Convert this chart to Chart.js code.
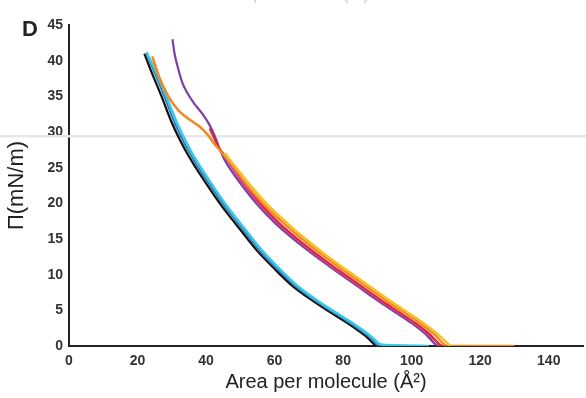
<!DOCTYPE html>
<html>
<head>
<meta charset="utf-8">
<script src="https://cdn.jsdelivr.net/npm/chart.js@4.4.0/dist/chart.umd.min.js"></script>
<style>
  html, body { margin: 0; padding: 0; background: #fff; }
  #wrap { position: relative; width: 586px; height: 398px; overflow: hidden; }
  #panel { position: absolute; left: 22px; top: 16px; font: bold 22px "Liberation Sans", Arial, sans-serif; color: #222; }
  #cut { position: absolute; left: 0; width: 586px; top: -14px; text-align: center; font: 15px "Liberation Sans", Arial, sans-serif; color: #c8c8c8; }
</style>
</head>
<body>
<div id="wrap">
  <canvas id="chart" width="586" height="398"></canvas>
  <div id="cut">Area per molecule (Å²)</div>
  <div id="panel">D</div>
</div>
<script>
// isotherm traces: [area, pressure]
const blackCurve = [[22,41],[24,38.5],[27,35],[30,31.3],[34,27.4],[37,25],[40,22.8],[44,20],[47,18.1],[50,16.3],[55,13.3],[60,10.8],[65,8.5],[70,6.7],[75,5.1],[80,3.6],[84,2.3],[87,1.2],[89.5,0]];
const blueCurve  = [[22.6,41],[24.8,38.5],[27.8,35],[30.8,31.3],[34.8,27.4],[37.8,25],[40.8,22.8],[44.8,20],[47.8,18.1],[50.8,16.3],[55.8,13.3],[60.8,10.8],[65.8,8.5],[70.8,6.7],[75.8,5.1],[80.8,3.6],[84.8,2.3],[87.8,1.2],[90.3,0]];
const cyanCurve  = [[22.6,41.2],[25.3,38.5],[28.4,35],[31.5,31.3],[35.5,27.4],[38.5,25],[41.5,22.8],[45.5,20],[48.5,18.1],[51.5,16.3],[56.5,13.3],[61.5,10.8],[66.5,8.5],[71.5,6.7],[76.5,5.1],[81.5,3.6],[85.5,2.3],[88.5,1.2],[91,0.2],[95,0.1],[105,0]];
const orangeCurve = [[24.3,40.6],[26.5,37.5],[29,35],[32,33],[35,31.8],[38,30.8],[40.5,29.6],[42.5,28.3],[45,26.9],[48,25.1],[52,22.5],[57,19.8],[62.5,17.3],[67.5,15.2],[72.5,13.3],[77.5,11.5],[82.5,9.8],[87.5,8.1],[92.5,6.4],[97.5,4.8],[102.5,3.2],[106.5,1.7],[110.5,0],[130,0]];
const yellowCurve = [[45.5,27],[48.8,25],[53,22.5],[58,19.8],[63.5,17.3],[68.5,15.2],[73.5,13.3],[78.5,11.5],[83.5,9.8],[88.5,8.1],[93.5,6.4],[98.5,4.8],[103.5,3.2],[107.5,1.7],[111.3,0]];
const redCurve    = [[41,30.5],[43.5,28],[46.7,26],[51.7,22.5],[56.2,19.8],[61.2,17.3],[66.2,15.2],[71.2,13.3],[76.2,11.5],[81.2,9.8],[86.2,8.1],[91.2,6.4],[96.2,4.8],[101.2,3.2],[105.2,1.7],[109.2,0],[126,0]];
const magentaCurve = [[44,27.6],[46.1,26],[51.1,22.5],[55.6,19.8],[60.6,17.3],[65.6,15.2],[70.6,13.3],[75.6,11.5],[80.6,9.8],[85.6,8.1],[90.6,6.4],[95.6,4.8],[100.6,3.2],[104.6,1.7],[108.6,0]];
const purpleCurve = [[30.2,43],[30.8,41],[31.8,39],[33,37],[34.5,35.5],[36.5,34],[39,32.5],[41,31],[42.5,29.5],[44,27.6],[45.5,26],[50.5,22.5],[55,19.8],[60,17.3],[65,15.2],[70,13.3],[75,11.5],[80,9.8],[85,8.1],[90,6.4],[95,4.8],[100,3.2],[104,1.7],[108,0],[128,0]];

const xTicks = [0, 20, 40, 60, 80, 100, 120, 140];
const yTicks = [0, 5, 10, 15, 20, 25, 30, 35, 40, 45];
const refPressure = 29.4;

function trace(points, color, width) {
    return {
        data: points.map(p => ({ x: p[0], y: p[1] })),
        showLine: true,
        borderColor: color,
        borderWidth: width,
        pointRadius: 0,
        cubicInterpolationMode: 'monotone',
        fill: false
    };
}

// faint horizontal rule across the whole picture
const refLine = {
    id: 'refLine',
    beforeDatasetsDraw(chart) {
        const ctx = chart.ctx;
        const y = chart.scales.y.getPixelForValue(refPressure);
        ctx.save();
        ctx.strokeStyle = '#e8e8e8';
        ctx.lineWidth = 2.5;
        ctx.beginPath();
        ctx.moveTo(0, y);
        ctx.lineTo(chart.width, y);
        ctx.stroke();
        ctx.restore();
    }
};

const tickFont = { family: '"Liberation Sans", Arial, sans-serif', size: 14, weight: 'bold' };

new Chart(document.getElementById('chart').getContext('2d'), {
    type: 'scatter',
    data: {
        datasets: [
            trace(yellowCurve, '#f2c12e', 2.5),
            trace(orangeCurve, '#f5871f', 2.5),
            trace(redCurve, '#dd2a2a', 2),
            trace(magentaCurve, '#d0409a', 2),
            trace(purpleCurve, '#7b3fa6', 2.2),
            trace(cyanCurve, '#3ec6e6', 2.5),
            trace(blueCurve, '#2a7fb8', 2),
            trace(blackCurve, '#111111', 2.2)
        ]
    },
    options: {
        responsive: false,
        animation: false,
        layout: { padding: { top: 25, right: 3, left: 0, bottom: 0 } },
        plugins: { legend: { display: false }, tooltip: { enabled: false } },
        scales: {
            x: {
                type: 'linear', min: 0, max: 150,
                afterBuildTicks: axis => { axis.ticks = xTicks.map(v => ({ value: v })); },
                afterFit: axis => { axis.height = 52; },
                grid: { display: false, drawTicks: true, tickLength: 5, tickColor: '#222' },
                border: { color: '#222', width: 2 },
                ticks: { color: '#333', font: tickFont, padding: 2, maxRotation: 0 },
                title: { display: true, text: 'Area per molecule (Å²)', color: '#222',
                         font: { family: '"Liberation Sans", Arial, sans-serif', size: 20 }, padding: { top: 2 } }
            },
            y: {
                type: 'linear', min: 0, max: 45,
                afterBuildTicks: axis => { axis.ticks = yTicks.map(v => ({ value: v })); },
                afterFit: axis => { axis.width = 69; },
                grid: { display: false, drawTicks: true, tickLength: 5, tickColor: '#222' },
                border: { color: '#222', width: 2 },
                ticks: { color: '#333', font: tickFont, padding: 1 },
                title: { display: true, text: 'Π(mN/m)', color: '#222',
                         font: { family: '"Liberation Sans", Arial, sans-serif', size: 22 }, padding: { top: 4, bottom: 0 } }
            }
        }
    },
    plugins: [refLine]
});
</script>
</body>
</html>
